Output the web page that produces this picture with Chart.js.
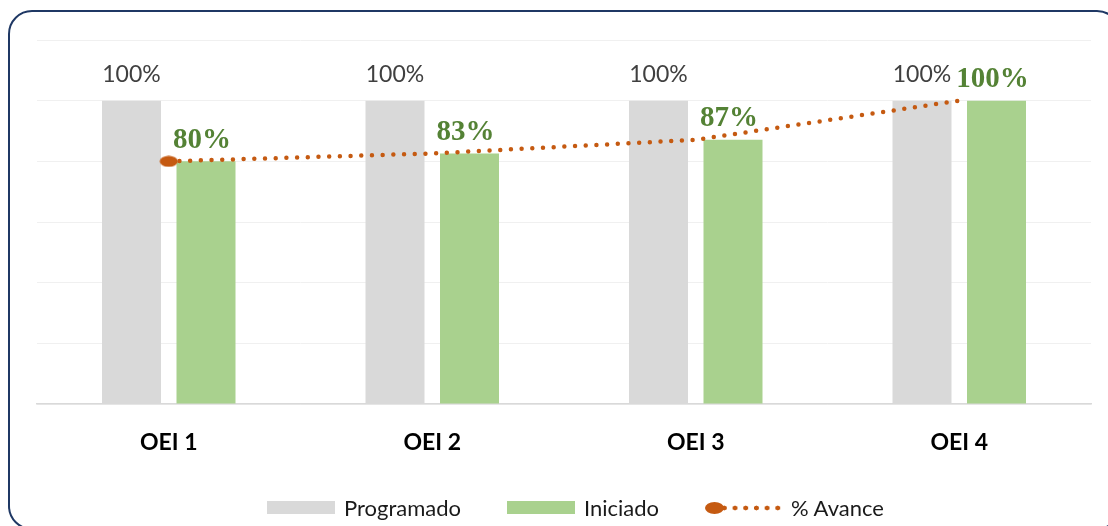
<!DOCTYPE html>
<html lang="es">
<head>
<meta charset="utf-8">
<title>Avance OEI</title>
<script src="https://cdn.jsdelivr.net/npm/chart.js@4.4.1/dist/chart.umd.min.js"></script>
<style>
  html, body { margin:0; padding:0; background:#fff; }
  body { width:1108px; height:526px; position:relative; overflow:hidden; font-family:Lato, "Open Sans", sans-serif; }
  .frame { position:absolute; left:8px; top:10px; width:1109px; height:516px; border:2px solid #1f3864; border-radius:24px; }
  .wrap { position:absolute; left:0; top:0; width:1108px; height:526px; }
  .legend { position:absolute; left:267px; top:494px; display:flex; align-items:center; font-size:22px; color:#1a1a1a; }
  .legend .item { display:flex; align-items:center; margin-right:46px; }
  .legend .box { width:68px; height:13px; margin-right:9px; }
  .legend .sym { position:relative; width:78px; height:12px; margin-right:8px; }
  .legend .sym .oval { position:absolute; left:0; top:0; width:19px; height:12px; border-radius:50%; background:#c55a11; }
  .legend .sym .dots { position:absolute; left:14px; top:3px; width:64px; height:6px;
    background:radial-gradient(circle, #c55a11 2.2px, transparent 2.7px) repeat-x; background-size:10.7px 6px; }
</style>
</head>
<body>
<div class="frame"></div>
<div class="wrap"><canvas id="chart" width="1108" height="526"></canvas></div>
<div class="legend">
  <div class="item"><span class="box" style="background:#d9d9d9"></span>Programado</div>
  <div class="item"><span class="box" style="background:#a9d18e"></span>Iniciado</div>
  <div class="item"><span class="sym"><span class="dots"></span><span class="oval"></span></span>% Avance</div>
</div>
<script>
// --- Data ---
const categories = ["OEI 1", "OEI 2", "OEI 3", "OEI 4"];
const programado = [100, 100, 100, 100];
const iniciado = [80, 82.6, 87.1, 100];
const avance = [80, 82.6, 87.1, 100];
const programadoLabels = ["100%", "100%", "100%", "100%"];
const iniciadoLabels = ["80%", "83%", "87%", "100%"];
const yTicks = [0, 20, 40, 60, 80, 100, 120];

// --- Oval marker for the first point ---
const oval = document.createElement('canvas');
oval.width = 19; oval.height = 12;
(function(){
  const c = oval.getContext('2d');
  c.fillStyle = '#c55a11';
  c.beginPath(); c.ellipse(9.5, 6, 9, 5.5, 0, 0, Math.PI*2); c.fill();
})();

// --- Value labels (no datalabels plugin available) ---
const valueLabels = {
  id: 'valueLabels',
  afterDatasetsDraw(chart){
    const ctx = chart.ctx;
    ctx.save();
    ctx.textAlign = 'center';
    ctx.textBaseline = 'middle';
    chart.getDatasetMeta(1).data.forEach((bar, i) => {
      ctx.font = '23px Lato';
      ctx.fillStyle = '#404040';
      ctx.fillText(programadoLabels[i], bar.x, bar.y - 26);
    });
    chart.getDatasetMeta(2).data.forEach((bar, i) => {
      ctx.font = 'bold 29px "Liberation Serif"';
      ctx.fillStyle = '#548235';
      ctx.fillText(iniciadoLabels[i], bar.x - 4, bar.y - 21);
    });
    ctx.restore();
  }
};

new Chart(document.getElementById('chart'), {
  data: {
    labels: categories,
    datasets: [
      { type:'line', label:'% Avance', data: avance, order:0,
        borderColor:'#c55a11', borderWidth:4.5, borderDash:[0, 10.7], borderCapStyle:'round',
        fill:false, tension:0,
        pointRadius: ctx => ctx.dataIndex === 0 ? 9 : 0,
        pointStyle: ctx => ctx.dataIndex === 0 ? oval : 'circle',
        pointBackgroundColor:'#c55a11', pointBorderWidth:0 },
      { type:'bar', label:'Programado', data: programado, order:1,
        backgroundColor:'#d9d9d9', barPercentage:0.792, categoryPercentage:0.5655 },
      { type:'bar', label:'Iniciado', data: iniciado, order:1,
        backgroundColor:'#a9d18e', barPercentage:0.792, categoryPercentage:0.5655 }
    ]
  },
  options: {
    responsive:false,
    animation:false,
    events:[],
    layout:{ padding:{ left:37, right:17, top:40, bottom:0 } },
    plugins:{ legend:{ display:false }, tooltip:{ enabled:false } },
    scales:{
      x:{
        grid:{ display:false },
        border:{ display:true, color:'#d9d9d9', width:1.5 },
        ticks:{ color:'#000', font:{ family:'Lato', size:23, weight:'bold' }, padding:17 },
        afterFit: s => { s.height = 122; }
      },
      y:{
        min: yTicks[0], max: yTicks[yTicks.length-1],
        afterBuildTicks: s => { s.ticks = yTicks.map(v => ({ value:v })); },
        grid:{ color:'#f0f0f0', lineWidth:1, drawTicks:false },
        border:{ display:false },
        ticks:{ display:false }
      }
    }
  },
  plugins:[valueLabels]
});
</script>
</body>
</html>
